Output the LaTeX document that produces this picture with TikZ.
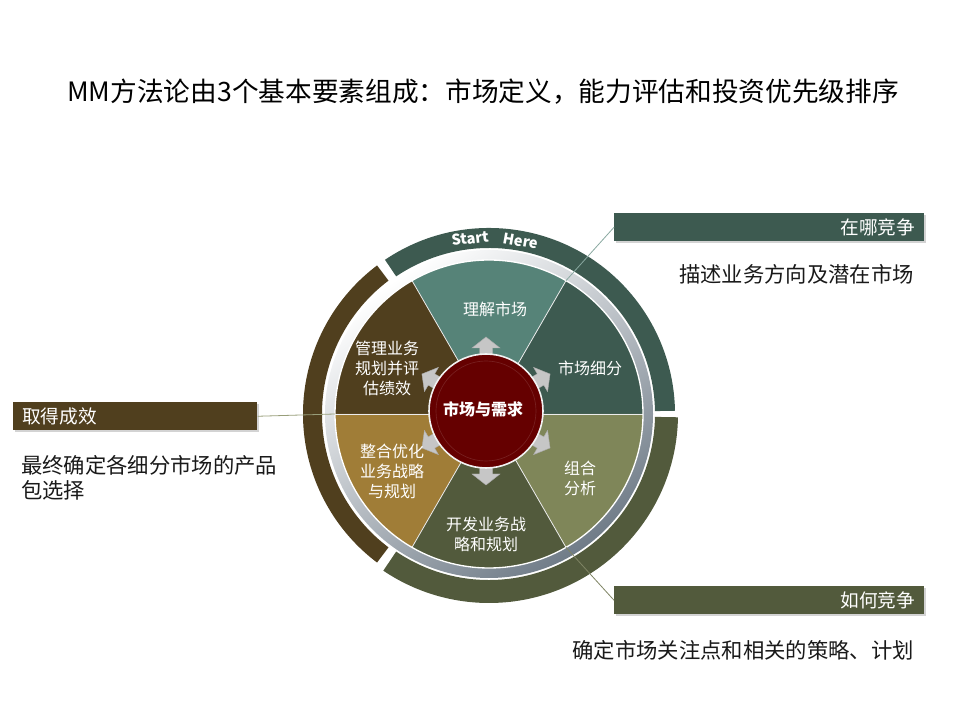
\documentclass[tikz,border=0pt]{standalone}
\usepackage{fontspec}
\setmainfont{Noto Sans CJK SC}
\usetikzlibrary{positioning,shadows,calc}
\definecolor{tealDark}{RGB}{61,90,80}
\definecolor{tealLight}{RGB}{86,131,120}
\definecolor{brownDark}{RGB}{80,63,30}
\definecolor{goldBrown}{RGB}{160,125,55}
\definecolor{oliveDark}{RGB}{82,90,60}
\definecolor{oliveLight}{RGB}{127,134,89}
\definecolor{hubRed}{RGB}{101,0,0}
\definecolor{bevelGray}{RGB}{112,124,136}
\tikzset{
  tagbox/.style={rectangle, minimum height=21pt, inner xsep=6.75pt, inner ysep=0pt, text=white, font=\fontsize{14}{16}\selectfont, drop shadow={opacity=0.35, shadow xshift=1pt, shadow yshift=-1.5pt}},
  seglabel/.style={text=white, align=center, font=\fontsize{12}{15}\selectfont, inner sep=0pt},
  desc/.style={text=black!90, font=\fontsize{16}{18.75}\selectfont, inner sep=0pt},
  hubarrow/.style={fill=gray!45, draw=gray!65, line width=0.3pt},
  ringword/.style={text=white, font=\bfseries\fontsize{11}{13}\selectfont, inner sep=0pt},
}
\begin{document}
\begin{tikzpicture}[x=0.75pt, y=0.75pt]
			\useasboundingbox (0,0) rectangle (960,720);
			\coordinate (ctr) at (489,306);
			\coordinate (hub) at (486,309);
			\node[font=\fontsize{20}{24}\selectfont, inner sep=0pt] (title) at (483,628) {MM方法论由3个基本要素组成：市场定义，能力评估和投资优先级排序};
			\begin{scope}[shift={(ctr)}]
				\shade[top color=white, middle color=white, bottom color=bevelGray, shading angle=35] (0,0) circle (164);
				\fill[tealDark] (1:166) arc (1:124:166) -- (124:186) arc (124:1:186) -- cycle;
				\fill[brownDark] (127:167) arc (127:233:167) -- (233:186) arc (233:127:186) -- cycle;
				\fill[oliveDark] (236:166) arc (236:359:166) -- (359:189) arc (359:236:189) -- cycle;
				\foreach \a/\col in {0/tealDark, 60/tealLight, 120/brownDark, 180/goldBrown, 240/oliveDark, 300/oliveLight}
					\fill[\col] (0,0) -- (\a:154) arc (\a:\a+60:154) -- cycle;
				\foreach \a in {0,60,...,300}
					\draw[white!85!gray, line width=0.6pt] (0,0) -- (\a:154);
				\draw[white, line width=1pt] (0,0) circle (154);
			\end{scope}
			\coordinate (segTop) at ($(ctr)+(60:154)$);
			\coordinate (segLeft) at ($(ctr)+(180:154)$);
			\coordinate (segLow) at ($(ctr)+(-60:154)$);
			\begin{scope}[shift={(hub)}]
				\foreach \a in {90,30,-30,-90,210,150}
					\filldraw[hubarrow, rotate=\a] (40,-6.5) -- (63,-6.5) -- (63,-14) -- (74,0) -- (63,14) -- (63,6.5) -- (40,6.5) -- cycle;
			\end{scope}
			\node[circle, fill=hubRed, draw=white!90!gray, line width=1.2pt, minimum size=85.5pt, inner sep=0pt] (hubNode) at (hub) {};
			\draw[hubRed!75!white, line width=0.5pt, opacity=0.5] (hub) circle (50);
			\node[text=white, font=\bfseries\fontsize{12}{14}\selectfont, inner sep=0pt] (hubText) at (483,311) {市场与需求};
			\node[ringword, rotate=6] (startWord) at (470,481.5) {Start};
			\node[ringword, rotate=-10] (hereWord) at (521,479) {Here};
			\node[seglabel] (segMarket) at (495,411) {理解市场};
			\node[seglabel] (segSplit) at (590,352) {市场细分};
			\node[seglabel] (segMix) at (580,242) {组合\\分析};
			\node[seglabel] (segPlan) at (486,186) {开发业务战\\略和规划};
			\node[seglabel] (segMerge) at (392,249) {整合优化\\业务战略\\与规划};
			\node[seglabel] (segManage) at (387,352) {管理业务\\规划并评\\估绩效};
			\node[tagbox, fill=tealDark, minimum width=232.5pt, text width=219pt, align=right, anchor=north west] (whereBox) at (614,507) {在哪竞争};
			\node[tagbox, fill=brownDark, minimum width=183pt, text width=169.5pt, align=left, anchor=north west] (resultBox) at (13,318) {取得成效};
			\node[tagbox, fill=oliveDark, minimum width=232.5pt, text width=219pt, align=right, anchor=north west] (howBox) at (614,134) {如何竞争};
			\draw[tealLight!70!white, line width=0.6pt] (whereBox.west) -- (segTop);
			\draw[oliveLight!80!white, line width=0.6pt] (resultBox.east) -- (segLeft);
			\draw[oliveLight!70!gray, line width=0.6pt] (howBox.west) -- (segLow);
			\node[desc, anchor=east] (whereText) at (914,446) {描述业务方向及潜在市场};
			\node[desc, anchor=north west, align=left] (resultText) at (21,265) {最终确定各细分市场的产品\\包选择};
			\node[desc, anchor=east] (howText) at (914,70) {确定市场关注点和相关的策略、计划};
		\end{tikzpicture}
\end{document}
